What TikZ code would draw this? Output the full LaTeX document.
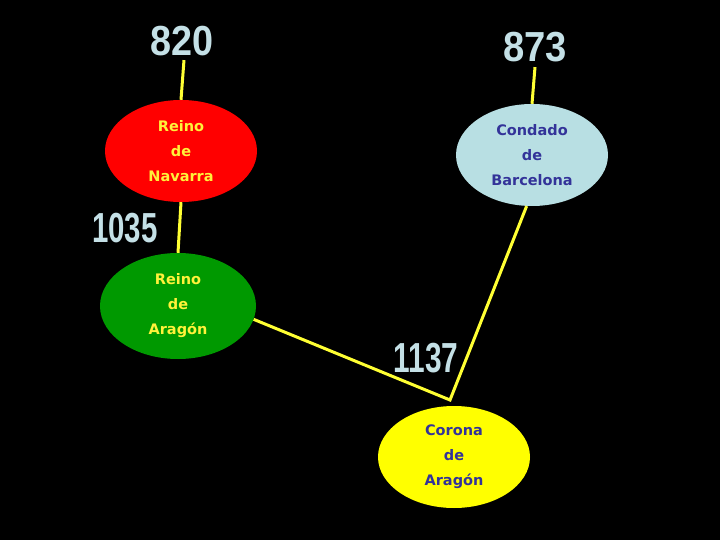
\documentclass[tikz,border=0pt]{standalone}
\usepackage{fontspec}
\setmainfont{DejaVu Sans}
\newfontfamily\yearfont{Liberation Sans}
\usetikzlibrary{shapes.geometric}
\definecolor{yearblue}{HTML}{C4E0E6}
\definecolor{linkyellow}{HTML}{FFFF33}
\definecolor{navred}{HTML}{FF0000}
\definecolor{barblue}{HTML}{B8DFE3}
\definecolor{aragreen}{HTML}{009900}
\definecolor{corayellow}{HTML}{FFFF00}
\definecolor{txtyellow}{HTML}{FFF23A}
\definecolor{txtblue}{HTML}{333399}
\begin{document}
\begin{tikzpicture}[x=1pt,y=-1pt,
  realm/.style={ellipse, minimum width=152pt, minimum height=102pt, inner sep=0pt,
    align=center, font=\bfseries\fontsize{14.5}{25}\selectfont},
  year/.style={font=\yearfont\bfseries\fontsize{42}{42}\selectfont, text=yearblue, inner sep=0pt},
  link/.style={draw=linkyellow, line width=3pt}]
\fill[black] (0,0) rectangle (720,540);
\useasboundingbox (0,0) rectangle (720,540);
% realms
\node[realm, fill=navred, text=txtyellow] (nav) at (181,151) {Reino\\de\\Navarra};
\node[realm, fill=barblue, text=txtblue] (bar) at (532,155) {Condado\\de\\Barcelona};
\node[realm, fill=aragreen, text=txtyellow, minimum width=156pt, minimum height=106pt] (ara) at (178,306) {Reino\\de\\Arag\'on};
\node[realm, fill=corayellow, text=txtblue] (cor) at (454,457) {Corona\\de\\Arag\'on};
% years
\node[year] (y820) at (182,41) {\scalebox{0.9}[1]{820}};
\node[year] (y873) at (535,47) {\scalebox{0.91}[1]{873}};
\node[year] (y1035) at (125,228) {\scalebox{0.7}[1]{1035}};
\node[year] (y1137) at (426,358) {\scalebox{0.71}[1]{1137}};
\coordinate (bend) at (450,400);
% connectors
\draw[link] (y820.south) ++(2,4) -- (nav.north);
\draw[link] (y873.south) ++(0,5) -- (bar.north);
\draw[link] (nav.south) -- (ara.north);
\draw[link] (bar.-96) -- (bend) -- (ara.-10);
\end{tikzpicture}
\end{document}
